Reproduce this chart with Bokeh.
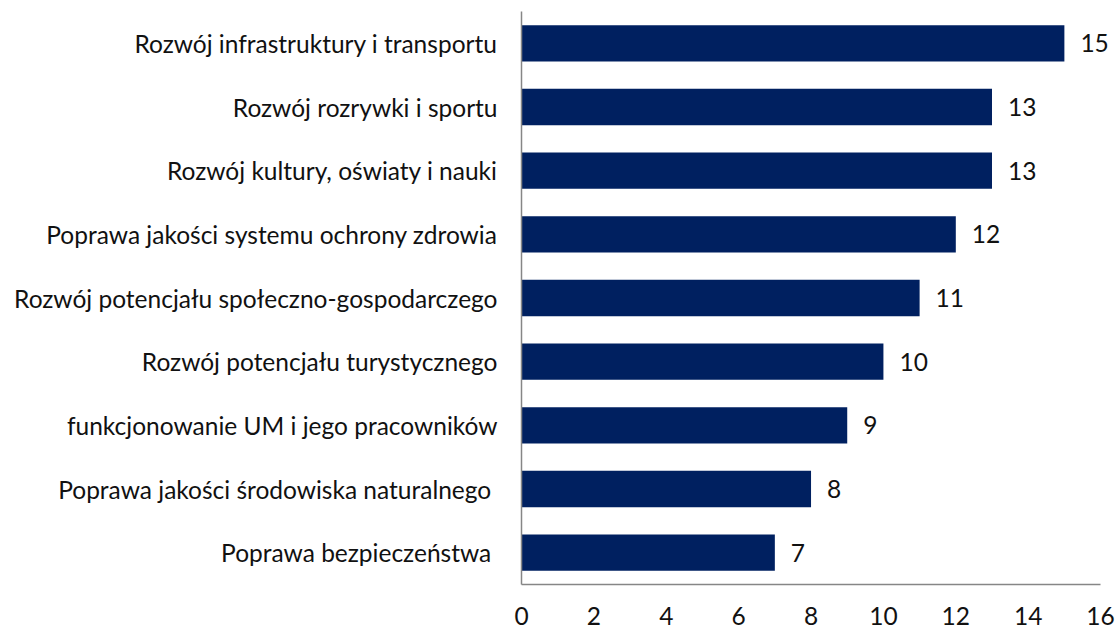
from bokeh.plotting import figure
from bokeh.models import FactorRange, Range1d, FixedTicker, ColumnDataSource
from bokeh.core.properties import value
from bokeh.embed import file_html
from bokeh.resources import INLINE

categories = [
    "Rozwój infrastruktury i transportu",
    "Rozwój rozrywki i sportu",
    "Rozwój kultury, oświaty i nauki",
    "Poprawa jakości systemu ochrony zdrowia",
    "Rozwój potencjału społeczno-gospodarczego",
    "Rozwój potencjału turystycznego",
    "funkcjonowanie UM i jego pracowników",
    "Poprawa jakości środowiska naturalnego ",
    "Poprawa bezpieczeństwa ",
]
values = [15, 13, 13, 12, 11, 10, 9, 8, 7]
x_ticks = [0, 2, 4, 6, 8, 10, 12, 14, 16]

FONT = "Lato"
FS = "24.5px"

src = ColumnDataSource(dict(cat=categories, val=values, lab=[str(v) for v in values]))

p = figure(width=1116, height=628, output_backend="svg", toolbar_location=None,
           y_range=FactorRange(*categories[::-1], range_padding=0),
           x_range=Range1d(0, 16.44),
           min_border_left=521, min_border_right=0, min_border_top=11, min_border_bottom=44)
p.outline_line_color = None
p.xgrid.visible = False
p.ygrid.visible = False
p.background_fill_color = "white"
p.border_fill_color = "white"

p.hbar(y="cat", right="val", left=0, height=0.57, source=src,
       fill_color="#002060", line_color=None)
p.text(x="val", y="cat", text="lab", source=src, x_offset=16,
       text_font=value(FONT), text_font_size=FS, text_color="#111111",
       text_baseline="middle", text_align="left")

for ax in (p.xaxis[0], p.yaxis[0]):
    ax.axis_line_color = "#868686"
    ax.axis_line_width = 1.5
    ax.major_tick_line_color = None
    ax.minor_tick_line_color = None
    ax.major_label_text_font = FONT
    ax.major_label_text_font_size = FS
    ax.major_label_text_color = "#111111"

p.xaxis.ticker = FixedTicker(ticks=x_ticks)
p.xaxis.bounds = (0, 16)
p.xaxis.major_label_standoff = 16
p.yaxis.major_label_standoff = 18

open("out.html", "w").write(file_html(p, INLINE))
